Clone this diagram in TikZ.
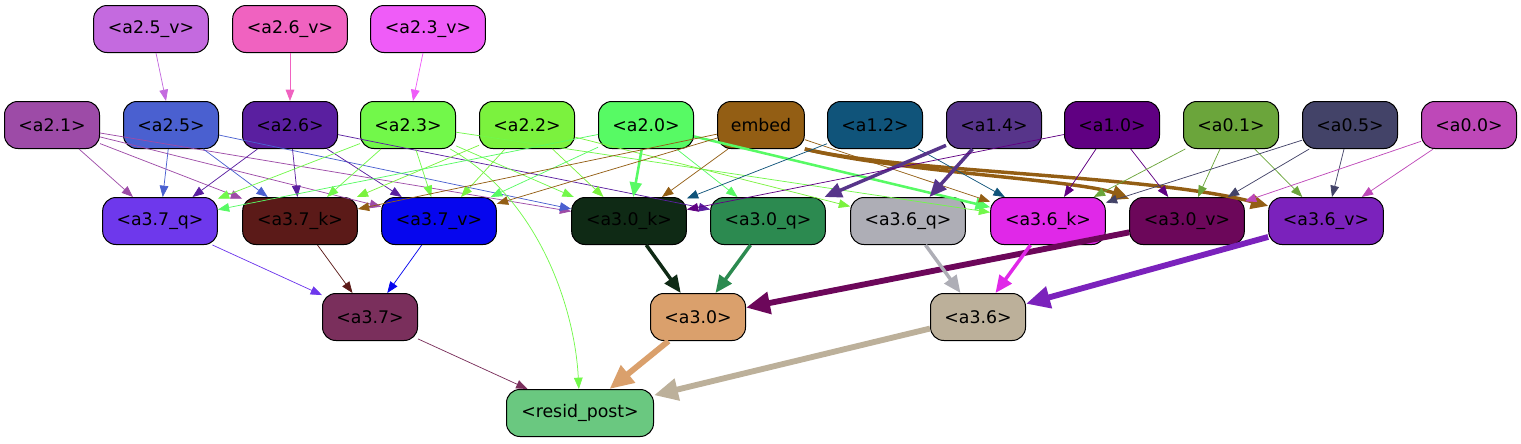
\documentclass[tikz,border=0pt]{standalone}
\usepackage{fontspec}
\setmainfont{DejaVu Sans}
\usetikzlibrary{arrows.meta}
\definecolor{a25v}{HTML}{C46ADF}
\definecolor{a26v}{HTML}{F062C0}
\definecolor{a23v}{HTML}{EF5CF8}
\definecolor{a21}{HTML}{9D4BA7}
\definecolor{a25}{HTML}{4A60D0}
\definecolor{a26}{HTML}{5A1FA0}
\definecolor{a23}{HTML}{72F84A}
\definecolor{a22}{HTML}{7BF23E}
\definecolor{a20}{HTML}{57FA64}
\definecolor{embed}{HTML}{935E14}
\definecolor{a12}{HTML}{10547A}
\definecolor{a14}{HTML}{57358A}
\definecolor{a10}{HTML}{600082}
\definecolor{a01}{HTML}{6BA53B}
\definecolor{a05}{HTML}{434368}
\definecolor{a00}{HTML}{BE48B8}
\definecolor{a37q}{HTML}{6E38EC}
\definecolor{a37k}{HTML}{5B1A18}
\definecolor{a37v}{HTML}{0606EE}
\definecolor{a30k}{HTML}{0F2A15}
\definecolor{a30q}{HTML}{2C8A50}
\definecolor{a36q}{HTML}{AEAEB6}
\definecolor{a36k}{HTML}{E028E8}
\definecolor{a30v}{HTML}{6C075A}
\definecolor{a36v}{HTML}{7B22BC}
\definecolor{a37}{HTML}{7A2F5C}
\definecolor{a30}{HTML}{DAA06C}
\definecolor{a36}{HTML}{BCB09A}
\definecolor{resid}{HTML}{6AC880}
\tikzset{
  box/.style={draw=black, line width=0.75pt, rounded corners=10pt, minimum height=35.25pt,
    minimum width=71.25pt, inner sep=0pt, font=\fontsize{13}{15}\selectfont},
  wbox/.style={box, minimum width=86pt},
  ln/.style={line width=0.55pt, -{Triangle[length=8.5pt,width=6.5pt]}},
  lm/.style={line width=1.9pt, -{Triangle[length=11pt,width=9pt]}},
  lk/.style={line width=2.6pt, -{Triangle[length=13pt,width=11pt]}},
  lh/.style={line width=4.4pt, -{Triangle[length=18pt,width=16pt]}}
}
\begin{document}
\begin{tikzpicture}[x=0.75pt,y=-0.75pt]
\useasboundingbox (0,0) rectangle (1521,443);
% top row
\node[wbox,fill=a25v] (a25v) at (151,29) {<a2.5\_v>};
\node[wbox,fill=a26v] (a26v) at (290,29) {<a2.6\_v>};
\node[wbox,fill=a23v] (a23v) at (428,29) {<a2.3\_v>};
% inputs
\node[box,fill=a21] (a21) at (52,125) {<a2.1>};
\node[box,fill=a25] (a25) at (171,125) {<a2.5>};
\node[box,fill=a26] (a26) at (290,125) {<a2.6>};
\node[box,fill=a23] (a23) at (408,125) {<a2.3>};
\node[box,fill=a22] (a22) at (527,125) {<a2.2>};
\node[box,fill=a20] (a20) at (646,125) {<a2.0>};
\node[box,fill=embed,minimum width=65pt] (embed) at (761,125) {embed};
\node[box,fill=a12] (a12) at (875,125) {<a1.2>};
\node[box,fill=a14] (a14) at (994,125) {<a1.4>};
\node[box,fill=a10] (a10) at (1112,125) {<a1.0>};
\node[box,fill=a01] (a01) at (1231,125) {<a0.1>};
\node[box,fill=a05] (a05) at (1350,125) {<a0.5>};
\node[box,fill=a00] (a00) at (1469,125) {<a0.0>};
% heads
\node[wbox,fill=a37q] (a37q) at (160,221) {<a3.7\_q>};
\node[wbox,fill=a37k] (a37k) at (300,221) {<a3.7\_k>};
\node[wbox,fill=a37v] (a37v) at (439,221) {<a3.7\_v>};
\node[wbox,fill=a30k] (a30k) at (629,221) {<a3.0\_k>};
\node[wbox,fill=a30q] (a30q) at (768,221) {<a3.0\_q>};
\node[wbox,fill=a36q] (a36q) at (908,221) {<a3.6\_q>};
\node[wbox,fill=a36k] (a36k) at (1048,221) {<a3.6\_k>};
\node[wbox,fill=a30v] (a30v) at (1187,221) {<a3.0\_v>};
\node[wbox,fill=a36v] (a36v) at (1326,221) {<a3.6\_v>};
\node[box,fill=a37] (a37) at (370,317) {<a3.7>};
\node[box,fill=a30] (a30) at (698,317) {<a3.0>};
\node[box,fill=a36] (a36) at (978,317) {<a3.6>};
\node[box,fill=resid,minimum width=110.25pt] (resid) at (580,413) {<resid\_post>};
% edges
\draw[ln,a25v] (a25v) -- (a25);
\draw[ln,a26v] (a26v) -- (a26);
\draw[ln,a23v] (a23v) -- (a23);
\draw[ln,a21] (a21) -- (a37q);
\draw[ln,a21] (a21) -- (a37k);
\draw[ln,a21] (a21) -- (a37v);
\draw[ln,a21] (a21) -- (a30k);
\draw[ln,a25] (a25) -- (a37q);
\draw[ln,a25] (a25) -- (a37k);
\draw[ln,a25] (a25) -- (a30k);
\draw[ln,a26] (a26) -- (a37q);
\draw[ln,a26] (a26) -- (a37k);
\draw[ln,a26] (a26) -- (a37v);
\draw[ln,a26] (a26) -- (a30q);
\draw[ln,a23] (a23) -- (a37q);
\draw[ln,a23] (a23) -- (a37k);
\draw[ln,a23] (a23) -- (a37v);
\draw[ln,a23] (a23) -- (a30k);
\draw[ln,a23] (a23) -- (a36k);
\draw[ln,a23] (a23) .. controls (540,200) and (575,310) .. (resid);
\draw[ln,a22] (a22) -- (a37k);
\draw[ln,a22] (a22) -- (a37v);
\draw[ln,a22] (a22) -- (a30k);
\draw[ln,a22] (a22) -- (a36q);
\draw[ln,a20] (a20) -- (a37q);
\draw[ln,a20] (a20) -- (a37v);
\draw[lm,a20] (a20) -- (a30k);
\draw[ln,a20] (a20) -- (a30q);
\draw[lm,a20] (a20) -- (a36k);
\draw[ln,embed] (embed) -- (a37k);
\draw[ln,embed] (embed) -- (a37v);
\draw[ln,embed] (embed) -- (a30k);
\draw[ln,embed] (embed) -- (a36k);
\draw[lk,embed] (embed.south east) .. controls (900,172) and (1080,180) .. (a30v);
\draw[lk,embed] (embed.south east) .. controls (900,172) and (1150,175) .. (a36v);
\draw[ln,a12] (a12) -- (a30k);
\draw[ln,a12] (a12) -- (a36k);
\draw[lk,a14] (a14) -- (a30q);
\draw[lk,a14] (a14) -- (a36q);
\draw[ln,a10] (a10) -- (a30k);
\draw[ln,a10] (a10) -- (a36k);
\draw[ln,a10] (a10) -- (a30v);
\draw[ln,a01] (a01) -- (a36k);
\draw[ln,a01] (a01) -- (a30v);
\draw[ln,a01] (a01) -- (a36v);
\draw[ln,a05] (a05) -- (a36k);
\draw[ln,a05] (a05) -- (a30v);
\draw[ln,a05] (a05) -- (a36v);
\draw[ln,a00] (a00) -- (a30v);
\draw[ln,a00] (a00) -- (a36v);
\draw[ln,a37q] (a37q) -- (a37);
\draw[ln,a37k] (a37k) -- (a37);
\draw[ln,a37v] (a37v) -- (a37);
\draw[lk,a30k] (a30k) -- (a30);
\draw[lk,a30q] (a30q) -- (a30);
\draw[lh,a30v] (a30v) -- (a30);
\draw[lk,a36q] (a36q) -- (a36);
\draw[lk,a36k] (a36k) -- (a36);
\draw[lh,a36v] (a36v) -- (a36);
\draw[ln,a37] (a37) -- (resid);
\draw[lh,a30] (a30) -- (resid);
\draw[lh,a36] (a36) -- (resid);
\end{tikzpicture}
\end{document}
